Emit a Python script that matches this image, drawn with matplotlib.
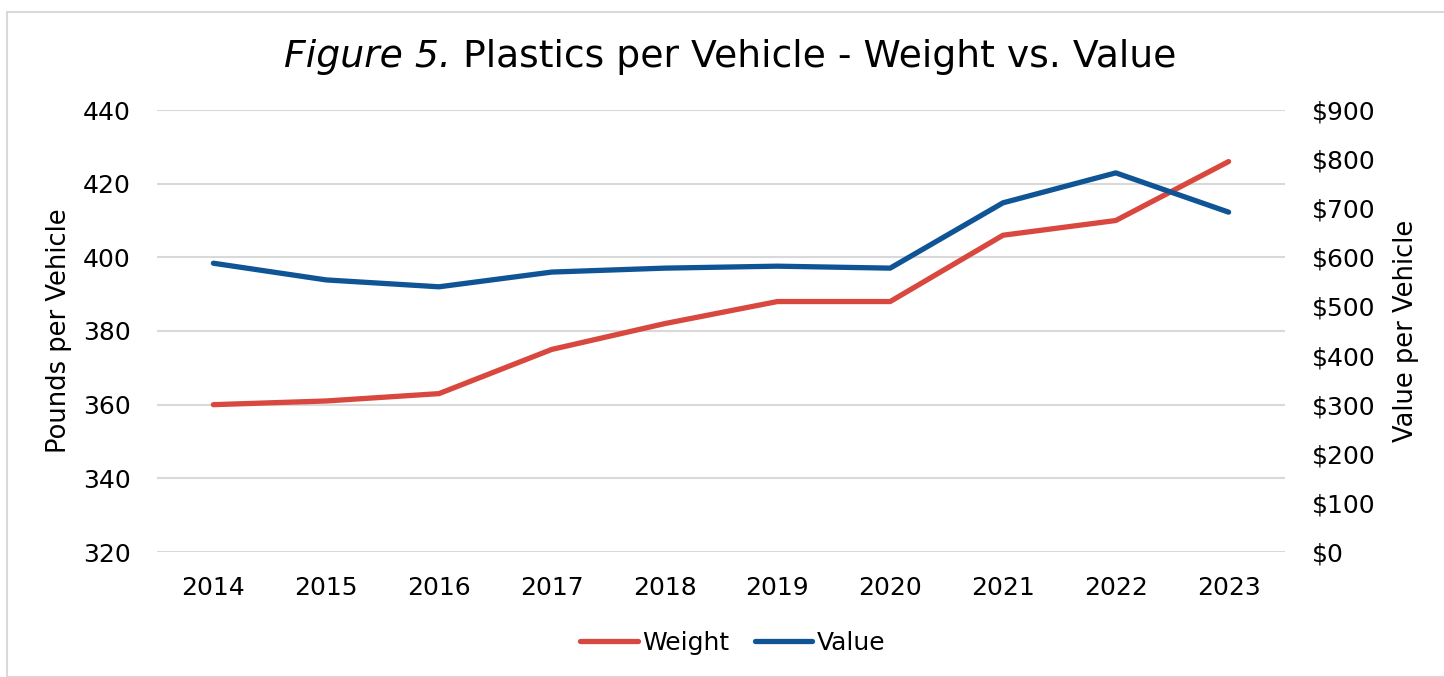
import matplotlib.pyplot as plt
from matplotlib.patches import Rectangle

# data
years = ["2014", "2015", "2016", "2017", "2018", "2019", "2020", "2021", "2022", "2023"]
weight = [360, 361, 363, 375, 382, 388, 388, 406, 410, 426]
value = [588, 554, 540, 570, 578, 582, 578, 711, 772, 692]

red = "#D9483F"
blue = "#0F5596"
W, H = 1444, 677

fig = plt.figure(figsize=(W / 100, H / 100), dpi=100)
fig.patches.append(Rectangle((7 / W, 0), 1, 1 - 12 / H, transform=fig.transFigure,
                             fill=False, edgecolor="#D9D9D9", linewidth=1.5))

ax = fig.add_axes([157 / W, 1 - 552 / H, (1285 - 157) / W, (552 - 110) / H])
ax2 = ax.twinx()

x = range(len(years))
l1, = ax.plot(x, weight, color=red, linewidth=3.8, solid_capstyle="round", label="Weight")
l2, = ax2.plot(x, value, color=blue, linewidth=3.8, solid_capstyle="round", label="Value")

ax.set_xlim(-0.5, len(years) - 0.5)
ax.set_ylim(320, 440)
ax.set_yticks(range(320, 441, 20))
ax2.set_ylim(0, 900)
ax2.set_yticks(range(0, 901, 100))
ax2.set_yticklabels([f"${v}" for v in range(0, 901, 100)])
ax.set_xticks(list(x))
ax.set_xticklabels(years)

ax.yaxis.grid(True, color="#D9D9D9", linewidth=1.5)
ax.set_axisbelow(True)
for a in (ax, ax2):
    for s in a.spines.values():
        s.set_visible(False)
    a.tick_params(length=0, labelsize=18, colors="#000000")
ax.tick_params(axis="y", pad=19)
ax.tick_params(axis="x", pad=17)
ax2.tick_params(axis="y", pad=19)

ax.set_ylabel("Pounds per Vehicle", fontsize=18.5, labelpad=8)
ax2.set_ylabel("Value per Vehicle", fontsize=18.5, labelpad=13)

# title: italic "Figure 5." then normal text, centred as one line
ty = 1 - 57 / H
t1 = fig.text(0, ty, "Figure 5.", style="italic", ha="left", va="center", fontsize=27.2)
t2 = fig.text(0, ty, " Plastics per Vehicle - Weight vs. Value", ha="left", va="center", fontsize=27.2)
r = fig.canvas.get_renderer()
w1 = t1.get_window_extent(r).width
w2 = t2.get_window_extent(r).width
x0 = 730 - (w1 + w2) / 2
t1.set_x(x0 / W)
t2.set_x((x0 + w1) / W)

fig.legend(handles=[l1, l2], loc="center", bbox_to_anchor=(733 / W, 1 - 643 / H),
           ncol=2, frameon=False, fontsize=18, handlelength=2.3, handletextpad=0.2,
           columnspacing=1.0)

fig.savefig("out.png", dpi=100)
